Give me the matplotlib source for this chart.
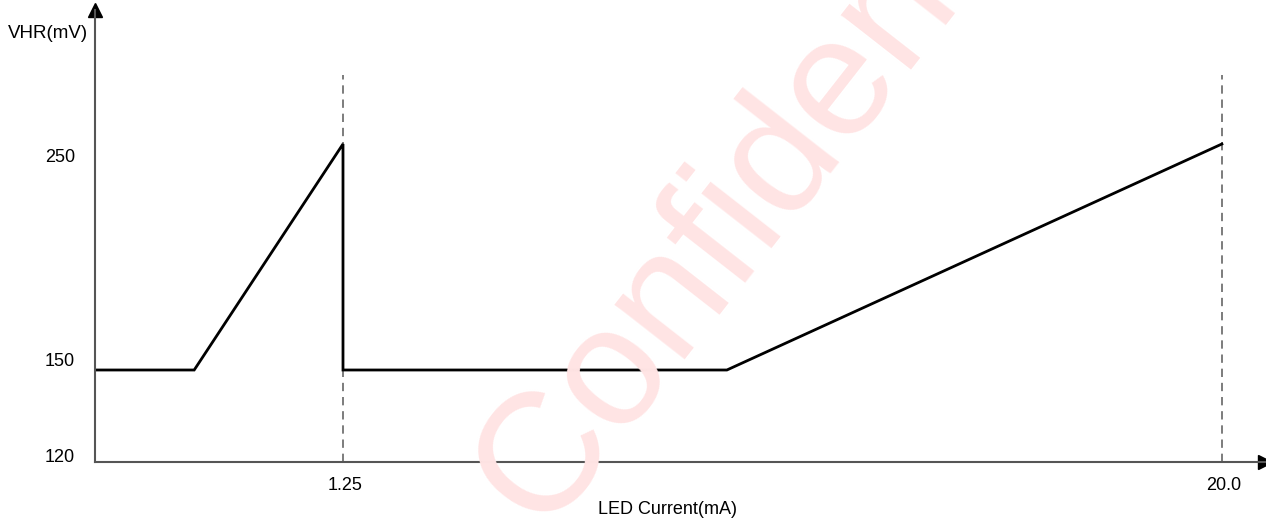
import numpy as np
import matplotlib.pyplot as plt
from matplotlib.transforms import offset_copy

# schematic curve: LED current (mA) vs headroom voltage (mV)
current_ma = [0.0, 0.5, 1.25, 1.25, 9.44, 20.0]
vhr_mv = [150, 150, 250, 150, 150, 250]

x_ticks = [1.25, 20.0]
x_tick_labels = ['1.25', '20.0']
y_ticks = [120, 150, 250]
y_tick_labels = ['120', '150', '250']

# the drawing is not to scale: piecewise-linear axes
x_knots = [0.0, 1.25, 20.0, 40.0]
x_pos = [0.0, 1.0, 4.544, 8.324]
y_knots = [120, 150, 250, 350]
y_pos = [0.0, 92.0, 318.0, 544.0]


def fx(v):
    return np.interp(v, x_knots, x_pos)


def fx_inv(v):
    return np.interp(v, x_pos, x_knots)


def fy(v):
    return np.interp(v, y_knots, y_pos)


def fy_inv(v):
    return np.interp(v, y_pos, y_knots)


plt.rcParams['font.family'] = ['Liberation Sans', 'DejaVu Sans']

fig = plt.figure(figsize=(12.66, 5.21), dpi=100)
W, H = 1266, 521
ax = fig.add_axes([95 / W, (H - 462) / H, (1265 - 95) / W, (462 - 10) / H])
ax.set_xscale('function', functions=(fx, fx_inv))
ax.set_yscale('function', functions=(fy, fy_inv))
ax.set_xlim(0, 20.92)
ax.set_ylim(120, fy_inv(452))

# watermark
fig.text(542 / W, 1 - 532 / H, 'Confidential', fontsize=122, color='#ffe4e4',
         rotation=52, rotation_mode='anchor', ha='left', va='baseline', zorder=0)
ax.set_facecolor('none')

for s in ['top', 'right']:
    ax.spines[s].set_visible(False)
for s in ['left', 'bottom']:
    ax.spines[s].set_color('#555555')
    ax.spines[s].set_linewidth(1.5)

ax.plot(1, 0, '>', color='black', markersize=10, transform=ax.transAxes, clip_on=False)
ax.plot(0, 1, '^', color='black', markersize=10, transform=ax.transAxes, clip_on=False)

ax.vlines(x_ticks, 120, fy_inv(387), colors='#666666', linestyles=(0, (5, 3.5)),
          linewidth=1.2)
ax.plot(current_ma, vhr_mv, color='black', linewidth=2, solid_joinstyle='miter')

ax.set_xticks([])
ax.set_yticks([])
for xv, lab in zip(x_ticks, x_tick_labels):
    ax.text(xv, 120, lab, fontsize=13, ha='center', va='center',
            transform=offset_copy(ax.transData, fig=fig, x=2, y=-24, units='dots'))
y_off = [4, 8, -13]
for yv, lab, off in zip(y_ticks, y_tick_labels, y_off):
    ax.text(0, yv, lab, fontsize=13, ha='right', va='center',
            transform=offset_copy(ax.transData, fig=fig, x=-20, y=off, units='dots'))

fig.text(8 / W, 1 - 33 / H, 'VHR(mV)', fontsize=13.5, ha='left', va='center')
fig.text(667 / W, 1 - 510 / H, 'LED Current(mA)', fontsize=13, ha='center', va='center')

fig.savefig('out.png', dpi=100)
